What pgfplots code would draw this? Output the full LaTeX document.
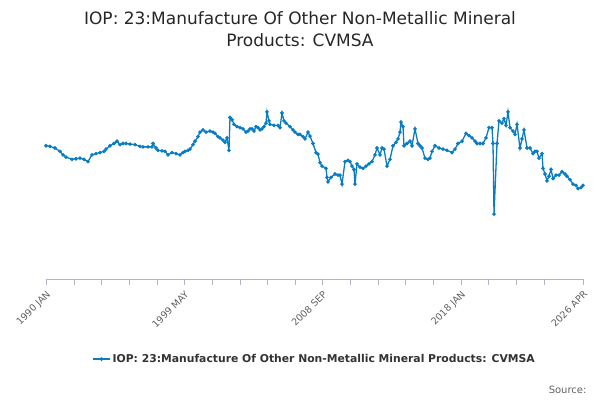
\documentclass[border=0pt]{standalone}
\usepackage{pgfplots}
\pgfplotsset{compat=1.18}
\usepackage{fontspec}
\setmainfont{DejaVu Sans}
\definecolor{ser}{HTML}{0A7DC2}
\definecolor{grid}{HTML}{E0E0E0}
\definecolor{tick}{HTML}{606060}
\begin{document}
\begin{tikzpicture}[x=1pt,y=1pt]
\useasboundingbox (0,0) rectangle (600,400);
\node[font=\fontsize{17}{19}\selectfont, text=black!85] at (300,382) {IOP: 23:Manufacture Of Other Non-Metallic Mineral};
\node[font=\fontsize{17}{19}\selectfont, text=black!85] at (300,360) {Products: CVMSA};
\node[font=\fontsize{10}{11}\selectfont, text=tick, anchor=east] at (590,10) {Source:};
\begin{axis}[at={(46,107)}, anchor=south west, scale only axis, width=537, height=226,
  xmin=46, xmax=583, ymin=0, ymax=200,
  ytick={0,50,100,150,200}, xmajorgrids=false, xminorgrids=false, ymajorgrids=true, grid style={grid},
  xtick={46,184.3,322.5,460.8,583},
  xticklabels={1990 JAN,1999 MAY,2008 SEP,2018 JAN,2026 APR},
  minor xtick={73.6,101.3,129,156.6,212,239.7,267.3,295,350,377.7,405.4,433,488.5,516,543.7},
  x tick label style={rotate=45, anchor=north east, font=\fontsize{9.5}{10}\selectfont, text=tick},
  y tick label style={font=\fontsize{9.5}{10}\selectfont, text=tick},
  /pgf/number format/assume math mode=true,
  axis x line*=bottom, axis y line=none,
  x axis line style={color=blue!20!gray!50, -},
  xtick style={color=blue!20!gray!50}, major tick length=6pt, minor tick length=6pt,
  tick align=outside,
  legend style={at={(0.5,-0.354)}, anchor=center, draw=none, font=\bfseries\fontsize{10.8}{12}\selectfont, text=black!80},
  legend cell align=left]
\addplot[color=ser, line width=1.3pt, mark=*, mark size=1.1pt] coordinates {
(46,118)(50,117.5)(55,116)(60,113)(63,110)(66,108)(72,106)(76,106.5)(80,107)(84,106)(88,104)(92,110)(96,111)(100,112)(104,113)(106,115)(110,118)(114,120)(117,122)(120,119)(123,120)(126,120)(130,119.5)(135,119)(140,117.5)(143,117)(148,117)(152,117)(153,120)(156,116)(158,114)(162,113.5)(165,113)(168,110)(172,112)(176,111)(180,110)(183,112)(185,113)(188,114)(190,115)(193,119)(195,122)(198,126)(200,130)(203,132)(206,130)(210,131)(213,130)(215,129)(218,126)(220,125)(223,123)(225,121)(227,125)(229,114)(230,143)(232,141)(234,137)(237,135)(240,134)(243,133)(246,130)(248,131)(250,133)(252,133)(254,131)(256,135)(258,134)(260,132)(262,133)(264,135)(266,138)(267,148)(269,140)(270,137)(274,136)(278,136)(280,134)(282,147)(284,140)(286,138)(290,135)(293,132)(295,130)(298,128)(300,128)(303,126)(305,124)(308,130)(310,126.5)(313,120)(316,112)(318,110.6)(320,103)(322,100)(326,98)(327,90)(328,86)(331,90)(335,93)(338,92)(340,92)(342,84)(345,104)(348,105)(350,104)(352,100)(354,97)(355,84)(357,102)(360,99)(363,98)(366,100)(369,102)(372,104)(375,110)(377,116)(380,110)(382,116)(384,115)(387,100)(390,106)(393,118)(396,121)(398,124)(400,130)(401,139)(403,135)(404,118)(407,120)(410,122)(412,118)(415,133)(418,120)(420,118)(422,116)(425,107)(428,106)(430,107)(432,113)(435,118)(439,116)(443,115)(447,114)(452,112)(455,115)(458,120)(462,122)(466,129)(469,127)(472,125)(475,122)(477,120)(480,120)(483,120)(486,125)(489,134)(492,134)(493,120)(494,57.5)(497,120)(499,140)(502,138)(504,142)(506,136)(508,148)(510,134)(513,131)(515,128)(517,137)(520,116)(522,124)(524,132)(527,116)(530,116)(533,111)(535,113)(537,113)(539,107)(542,111)(543,98)(545,93)(547,87)(549,91)(551,97)(553,89)(556,92)(559,92)(562,95)(565,93)(567,91)(570,88)(573,84)(576,83)(578,80)(581,81)(583,83)
};
\addlegendentry{IOP: 23:Manufacture Of Other Non-Metallic Mineral Products: CVMSA}
\end{axis}
\end{tikzpicture}
\end{document}
